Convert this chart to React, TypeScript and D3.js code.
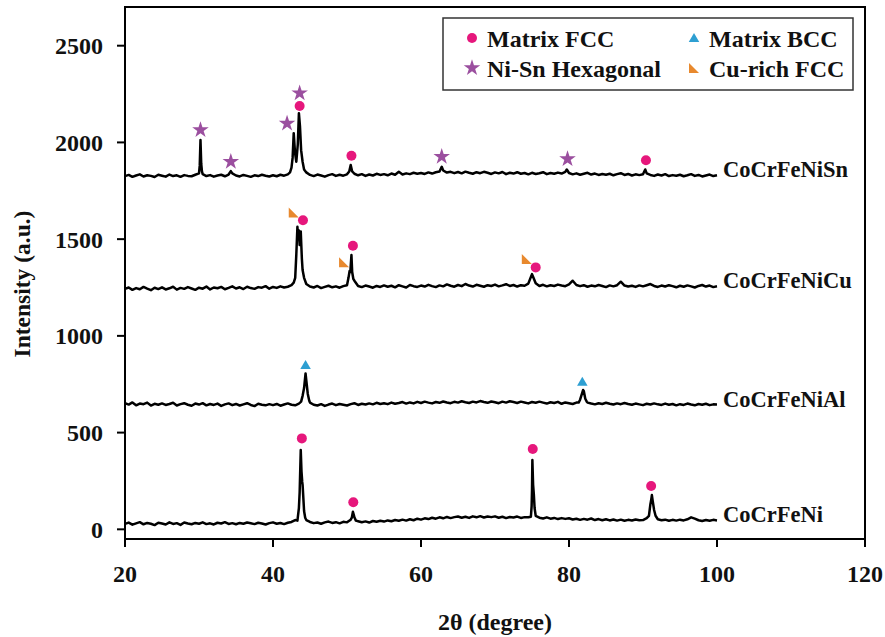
import React from 'react';
import * as d3 from 'd3';

// XRD patterns: intensities on a 0.5 degree grid from 20 to 100, plus extra points on the peaks
const X_START = 20;
const X_STEP = 0.5;

const seriesNames = ['CoCrFeNiSn', 'CoCrFeNiCu', 'CoCrFeNiAl', 'CoCrFeNi'];

const snBase = [
  1826, 1832, 1822, 1829, 1835, 1824, 1830, 1827, 1821, 1833,
  1828, 1823, 1834, 1826, 1830, 1822, 1831, 1827, 1825, 1833,
  1840, 1836, 1826, 1831, 1823, 1829, 1833, 1825, 1834, 1840,
  1829, 1824, 1832, 1827, 1822, 1830, 1826, 1833, 1828, 1824,
  1830, 1825, 1833, 1828, 1835, 1870, 1940, 2151, 1900, 1845,
  1832, 1826, 1834, 1829, 1823, 1831, 1836, 1827, 1833, 1828,
  1835, 1883, 1838, 1830, 1836, 1827, 1834, 1829, 1838, 1832,
  1836, 1830, 1839, 1833, 1848, 1834, 1840, 1836, 1843, 1838,
  1842, 1837, 1845, 1839, 1846, 1850, 1855, 1844, 1848, 1841,
  1847, 1840, 1849, 1843, 1838, 1846, 1841, 1848, 1843, 1837,
  1845, 1840, 1847, 1836, 1843, 1839, 1846, 1838, 1842, 1835,
  1843, 1837, 1841, 1846, 1836, 1842, 1838, 1844, 1839, 1848,
  1842, 1835, 1840, 1833, 1838, 1843, 1834, 1839, 1832, 1837,
  1833, 1838, 1830, 1836, 1841, 1832, 1837, 1829, 1835, 1831,
  1835, 1840, 1832, 1827, 1834, 1829, 1836, 1826, 1831, 1828,
  1833, 1825, 1830, 1836, 1827, 1832, 1824, 1829, 1834, 1826,
  1830,
];
const snPeaks = [
  [30.1, 1880], [30.2, 2012], [30.3, 1890], [30.4, 1850], [34.3, 1852],
  [42.3, 1845], [42.65, 1920], [42.8, 2048], [42.95, 1960], [43.15, 1900],
  [43.35, 1990], [43.65, 2080], [43.8, 1960], [44.2, 1860],
  [50.3, 1850], [50.7, 1850], [62.8, 1874], [79.7, 1860], [90.3, 1860],
];

const cuBase = [
  1243, 1250, 1238, 1247, 1241, 1253, 1244, 1236, 1249, 1242,
  1251, 1240, 1246, 1254, 1239, 1248, 1243, 1252, 1245, 1238,
  1249, 1244, 1255, 1240, 1250, 1246, 1253, 1241, 1248, 1256,
  1245, 1251, 1242, 1254, 1247, 1243, 1252, 1249, 1257, 1244,
  1253, 1248, 1256, 1250, 1254, 1262, 1300, 1545, 1340, 1268,
  1255, 1250, 1258, 1247, 1253, 1259, 1251, 1256, 1249, 1257,
  1262, 1360, 1285, 1258, 1252, 1260, 1255, 1249, 1258, 1253,
  1261, 1254, 1259, 1251, 1262, 1256, 1250, 1263, 1257, 1253,
  1260, 1255, 1264, 1257, 1252, 1261, 1256, 1266, 1259, 1254,
  1263, 1257, 1268, 1260, 1255, 1264, 1259, 1254, 1262, 1258,
  1265, 1256, 1261, 1267, 1258, 1263, 1255, 1262, 1259, 1270,
  1319, 1272, 1258, 1264, 1256, 1262, 1258, 1265, 1260, 1257,
  1266, 1285, 1263, 1257, 1262, 1254, 1260, 1256, 1263, 1258,
  1252, 1261, 1256, 1262, 1280, 1260, 1255, 1259, 1253, 1261,
  1256, 1262, 1268, 1258, 1253, 1260, 1255, 1262, 1257, 1251,
  1259, 1254, 1261, 1256, 1250, 1258, 1263, 1255, 1260, 1252,
  1256,
];
const cuPeaks = [
  [42.8, 1275], [43.15, 1420], [43.3, 1564], [43.4, 1500], [43.6, 1470],
  [43.75, 1540], [43.9, 1400], [44.2, 1300],
  [50.2, 1300], [50.35, 1335], [50.45, 1330], [50.6, 1418], [50.7, 1330], [50.85, 1295],
  [74.8, 1300], [75.2, 1300],
];

const alBase = [
  652, 645, 656, 641, 650, 647, 655, 640, 649, 644,
  651, 643, 648, 654, 640, 647, 652, 644, 639, 650,
  645, 652, 641, 648, 643, 650, 638, 646, 651, 642,
  648, 640, 646, 652, 643, 637, 649, 644, 641, 647,
  642, 648, 639, 645, 651, 644, 641, 650, 690, 770,
  655, 644, 640, 647, 638, 645, 650, 642, 648, 644,
  640, 647, 652, 643, 649, 645, 651, 646, 654, 648,
  652, 647, 655, 649, 653, 658, 650, 656, 651, 659,
  653, 660, 655, 651, 658, 654, 661, 656, 652, 659,
  655, 662, 657, 653, 660, 656, 663, 658, 654, 661,
  657, 652, 660, 655, 662, 658, 653, 660, 656, 651,
  658, 654, 660, 655, 650, 657, 653, 659, 649, 656,
  652, 648, 655, 670, 715, 655, 650, 646, 652, 648,
  654, 649, 645, 651, 647, 653, 648, 644, 650, 646,
  642, 649, 645, 651, 646, 643, 650, 644, 648, 641,
  647, 643, 650, 645, 641, 648, 644, 649, 642, 646,
  645,
];
const alPeaks = [
  [43.8, 660], [44.2, 730], [44.4, 806], [44.7, 700], [44.9, 665],
  [81.3, 655], [81.9, 720], [82.2, 675], [82.4, 660],
];

const niBase = [
  28, 35, 24, 31, 37, 26, 33, 29, 22, 34,
  30, 25, 36, 28, 32, 23, 35, 30, 26, 33,
  29, 36, 27, 31, 25, 34, 30, 37, 28, 32,
  26, 33, 29, 35, 31, 27, 34, 30, 25, 32,
  36, 29, 33, 27, 34, 38, 48, 110, 230, 48,
  38, 32, 35, 29, 36, 40, 33, 37, 31, 39,
  36, 50, 62, 42, 37, 41, 35, 43, 39, 44,
  40, 46, 42, 48, 44, 50, 45, 52, 47, 55,
  50, 57, 53, 60, 55, 62, 57, 64, 58, 63,
  66, 60, 65, 59, 67, 62, 68, 61, 66, 63,
  67, 60, 65, 58, 64, 61, 66, 59, 63, 62,
  200, 70, 60, 56, 62, 55, 59, 53, 58, 54,
  57, 51, 55, 49, 54, 50, 56, 48, 53, 47,
  52, 46, 51, 45, 50, 44, 49, 46, 51, 47,
  48, 58, 130, 100, 52, 47, 50, 44, 49, 45,
  50, 46, 52, 62, 55, 47, 43, 48, 44, 49,
  46,
];
const niPeaks = [
  [43.3, 45], [43.6, 190], [43.75, 410], [43.85, 300], [43.95, 245], [44.2, 95], [44.35, 60],
  [50.65, 60], [50.8, 91], [50.95, 70], [51.2, 45],
  [74.85, 65], [74.95, 120], [75.05, 358], [75.15, 230], [75.25, 180], [75.35, 110],
  [90.8, 70], [91.1, 150], [91.2, 177], [91.3, 150], [91.7, 70],
];

// phase markers [2theta, intensity]
const fccMarks = [
  [43.6, 2188], [50.6, 1931], [90.4, 1908],
  [44.05, 1598], [50.8, 1466], [75.5, 1354],
  [43.9, 470], [50.85, 140], [75.1, 415], [91.1, 224],
];
const hexMarks = [[30.2, 2064], [34.3, 1900], [41.9, 2098], [43.6, 2255], [62.8, 1926], [79.8, 1914]];
const bccMarks = [[44.4, 849], [81.8, 763]];
const cuRichMarks = [[42.8, 1638], [49.6, 1380], [74.3, 1397]];

const xTicks = [20, 40, 60, 80, 100, 120];
const yTicks = [0, 500, 1000, 1500, 2000, 2500];

const COLORS = { fcc: '#e6177c', hex: '#9b4f9f', bcc: '#2e9fd2', cu: '#e8892e' };
const FONT = '"Liberation Serif", "Times New Roman", serif';

const buildSeries = (base: number[], peaks: number[][]) =>
  [...base.map((v, i) => [X_START + i * X_STEP, v]), ...peaks].sort((a, b) => a[0] - b[0]);

const allSeries = [
  buildSeries(snBase, snPeaks),
  buildSeries(cuBase, cuPeaks),
  buildSeries(alBase, alPeaks),
  buildSeries(niBase, niPeaks),
];

const W = 885;
const H = 637;
const margin = { top: 7, left: 125, right: 20, bottom: 98 };
const innerW = W - margin.left - margin.right;
const innerH = H - margin.top - margin.bottom;

const starPath = d3.symbol(d3.symbolStar, 85)()!;
const triPath = d3.symbol(d3.symbolTriangle, 48)()!;
const cornerPath = 'M-5,-5L-5,5L5,5Z';

const Marker = ({ kind, x, y }: { kind: string; x: number; y: number }) => {
  if (kind === 'fcc') return <circle cx={x} cy={y} r={5} fill={COLORS.fcc} />;
  if (kind === 'hex') return <path d={starPath} transform={`translate(${x},${y})`} fill={COLORS.hex} />;
  if (kind === 'bcc') return <path d={triPath} transform={`translate(${x},${y + 1})`} fill={COLORS.bcc} />;
  return <path d={cornerPath} transform={`translate(${x},${y})`} fill={COLORS.cu} />;
};

const App = () => {
  const x = d3.scaleLinear().domain([20, 120]).range([0, innerW]);
  const y = d3.scaleLinear().domain([-50, 2700]).range([innerH, 0]);
  const line = d3.line<number[]>().x(d => x(d[0])).y(d => y(d[1]));

  const markGroups: [string, number[][]][] = [
    ['fcc', fccMarks], ['hex', hexMarks], ['bcc', bccMarks], ['cu', cuRichMarks],
  ];

  const legend = [
    { kind: 'fcc', label: 'Matrix FCC', lx: 29, ly: 20 },
    { kind: 'bcc', label: 'Matrix BCC', lx: 251, ly: 20 },
    { kind: 'hex', label: 'Ni-Sn Hexagonal', lx: 29, ly: 50 },
    { kind: 'cu', label: 'Cu-rich FCC', lx: 251, ly: 50 },
  ];

  return (
    <svg width={W} height={H} style={{ position: 'absolute', left: 0, top: 0, background: '#fff' }} fontFamily={FONT}>
      <g transform={`translate(${margin.left},${margin.top})`}>
        {allSeries.map((s, i) => (
          <path key={i} d={line(s) || ''} fill="none" stroke="#000" strokeWidth={2.5} strokeLinejoin="round" />
        ))}

        {allSeries.map((s, i) => (
          <text key={seriesNames[i]} x={x(100) + 6} y={y(s[s.length - 1][1]) + 2}
            fontSize={22.5} fontWeight="bold" fill="#111">
            {seriesNames[i]}
          </text>
        ))}

        {markGroups.map(([kind, pts]) =>
          pts.map((p, j) => <Marker key={kind + j} kind={kind} x={x(p[0])} y={y(p[1])} />)
        )}

        {/* frame */}
        <rect x={0} y={0} width={innerW} height={innerH} fill="none" stroke="#000" strokeWidth={2} />

        {yTicks.map(t => (
          <g key={t} transform={`translate(0,${y(t)})`}>
            <line x1={-8} x2={0} stroke="#000" strokeWidth={2} />
            <text x={-22} dy="0.35em" textAnchor="end" fontSize={24} fontWeight="bold" fill="#111">{t}</text>
          </g>
        ))}
        {xTicks.map(t => (
          <g key={t} transform={`translate(${x(t)},${innerH})`}>
            <line y1={0} y2={8} stroke="#000" strokeWidth={2} />
            <text y={43} textAnchor="middle" fontSize={24} fontWeight="bold" fill="#111">{t}</text>
          </g>
        ))}

        {/* legend */}
        <g transform="translate(318,11)">
          <rect x={0} y={0} width={410} height={72} fill="#fff" stroke="#333" strokeWidth={1.5} />
          {legend.map(l => (
            <g key={l.label}>
              <Marker kind={l.kind} x={l.lx} y={l.ly} />
              <text x={l.lx + 15} y={l.ly + 9} fontSize={24} fontWeight="bold" fill="#111">{l.label}</text>
            </g>
          ))}
        </g>
      </g>

      <text x={margin.left + innerW / 2} y={630} textAnchor="middle" fontSize={24} fontWeight="bold" fill="#111">
        2θ (degree)
      </text>
      <text transform="translate(30,284) rotate(-90)" textAnchor="middle" fontSize={23.5} fontWeight="bold" fill="#111">
        Intensity (a.u.)
      </text>
    </svg>
  );
};

export default App;
